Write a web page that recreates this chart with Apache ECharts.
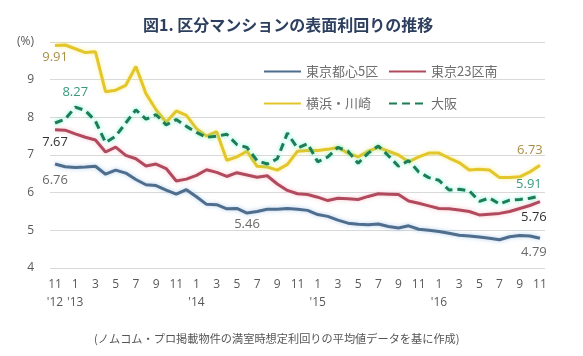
<!DOCTYPE html>
<html>
<head>
<meta charset="utf-8">
<script src="https://cdn.jsdelivr.net/npm/echarts@6/dist/echarts.min.js"></script>
<style>
html,body{margin:0;padding:0;background:#fff;}
#chart{width:583px;height:356px;}
</style>
</head>
<body>
<div id="chart"></div>
<script>
// ---- data ----
const titleText = '図1. 区分マンションの表面利回りの推移';
const footnote = '(ノムコム・プロ掲載物件の満室時想定利回りの平均値データを基に作成)';
const seriesNames = ['東京都心5区', '東京23区南', '横浜・川崎', '大阪'];
const categories = [
  '2012-11','2012-12',
  '2013-01','2013-02','2013-03','2013-04','2013-05','2013-06','2013-07','2013-08','2013-09','2013-10','2013-11','2013-12',
  '2014-01','2014-02','2014-03','2014-04','2014-05','2014-06','2014-07','2014-08','2014-09','2014-10','2014-11','2014-12',
  '2015-01','2015-02','2015-03','2015-04','2015-05','2015-06','2015-07','2015-08','2015-09','2015-10','2015-11','2015-12',
  '2016-01','2016-02','2016-03','2016-04','2016-05','2016-06','2016-07','2016-08','2016-09','2016-10','2016-11'
];
const tokyoCentral5 = [6.76,6.69,6.67,6.68,6.70,6.49,6.60,6.52,6.35,6.21,6.19,6.07,5.96,6.08,5.89,5.69,5.68,5.57,5.58,5.46,5.50,5.56,5.56,5.58,5.56,5.53,5.42,5.37,5.27,5.19,5.16,5.15,5.17,5.10,5.06,5.12,5.03,5.00,4.97,4.92,4.87,4.85,4.82,4.79,4.75,4.83,4.86,4.85,4.79];
const tokyo23South = [7.67,7.66,7.56,7.47,7.40,7.08,7.21,6.99,6.90,6.71,6.76,6.64,6.31,6.36,6.46,6.61,6.54,6.43,6.53,6.47,6.41,6.45,6.23,6.06,5.97,5.95,5.88,5.79,5.85,5.84,5.82,5.90,5.97,5.96,5.95,5.78,5.72,5.65,5.58,5.57,5.54,5.50,5.41,5.43,5.45,5.50,5.58,5.66,5.76];
const yokohamaKawasaki = [9.91,9.92,9.82,9.72,9.74,8.68,8.72,8.85,9.35,8.63,8.20,7.87,8.17,8.05,7.70,7.50,7.62,6.86,6.95,7.10,6.70,6.68,6.60,6.75,7.10,7.12,7.12,7.15,7.20,7.05,6.95,7.10,7.20,7.10,7.00,6.82,6.95,7.05,7.05,6.92,6.80,6.60,6.62,6.60,6.40,6.40,6.42,6.55,6.73];
const osaka = [7.85,7.95,8.27,8.18,7.90,7.33,7.50,7.85,8.20,7.95,8.07,7.80,7.94,7.76,7.60,7.47,7.50,7.55,7.28,7.20,6.85,6.76,6.90,7.58,7.18,7.30,6.82,6.95,7.20,7.10,6.78,7.05,7.24,6.98,6.70,6.85,6.55,6.40,6.33,6.07,6.09,6.05,5.77,5.86,5.70,5.80,5.82,5.85,5.91];
const yTicks = [4,5,6,7,8,9,10];

// ---- styling ----
const FONT = '"Noto Sans CJK JP", "Noto Sans", sans-serif';
const NUMFONT = '"Open Sans", sans-serif';
const colors = ['#4f6d8d', '#b24a5e', '#e3c52c', '#1d7d55'];
const glow = ['rgba(120,170,220,0.55)', 'rgba(240,150,170,0.55)', 'rgba(250,235,120,0.8)', 'rgba(60,240,200,0.75)'];

// which points carry a value label (style only)
const labelSpecs = [
  [{i:0, pos:'bottom', dist:9, off:[0,0], color:'#6a6a6a'},
   {i:19, pos:'bottom', dist:4, off:[0,0], color:'#6a6a6a'},
   {i:48, pos:'bottom', dist:7, off:[-6,0], color:'#6a6a6a'}],
  [{i:0, pos:'bottom', dist:5, off:[0,0], color:'#333333'},
   {i:48, pos:'bottom', dist:8, off:[-6,0], color:'#333333'}],
  [{i:0, pos:'bottom', dist:4, off:[0,0], color:'#a88f45'},
   {i:48, pos:'top', dist:7, off:[-10,0], color:'#a88f45'}],
  [{i:2, pos:'top', dist:7, off:[0,0], color:'#3a9a7e'},
   {i:48, pos:'top', dist:4, off:[-11,0], color:'#3a9a7e'}]
];

function buildData(values, specs) {
  return values.map((v, i) => {
    const s = specs.find(o => o.i === i);
    if (!s) return v;
    return {
      value: v,
      symbol: 'circle',
      symbolSize: 2,
      itemStyle: { color: 'rgba(0,0,0,0)', borderWidth: 0 },
      label: {
        show: true, position: s.pos, distance: s.dist, offset: s.off,
        color: s.color, fontSize: 13, fontFamily: NUMFONT,
        formatter: p => Number(p.value).toFixed(2)
      }
    };
  });
}

const allValues = [tokyoCentral5, tokyo23South, yokohamaKawasaki, osaka];
const series = allValues.map((vals, k) => ({
  name: seriesNames[k],
  type: 'line',
  data: buildData(vals, labelSpecs[k]),
  symbol: 'none',
  showSymbol: true,
  showAllSymbol: true,
  smooth: false,
  z: 2 + k,
  lineStyle: {
    color: colors[k],
    width: 3,
    type: k === 3 ? [8, 5] : 'solid',
    shadowColor: glow[k],
    shadowBlur: 4
  },
  itemStyle: { color: colors[k] },
  emphasis: { disabled: true },
  animation: false
}));

function legendAt(name, left, top) {
  return {
    data: [{ name: name, itemStyle: { opacity: 0 } }],
    left: left, top: top,
    itemWidth: 37, itemHeight: 12,
    itemStyle: { opacity: 0 },
    textStyle: { color: '#6e6e6e', fontSize: 13, fontFamily: FONT },
    selectedMode: false
  };
}

const chart = echarts.init(document.getElementById('chart'), null, { renderer: 'canvas' });
chart.setOption({
  backgroundColor: '#ffffff',
  animation: false,
  title: [
    { text: titleText, left: 138, top: 12,
      textStyle: { color: '#2d3f5e', fontSize: 16, fontWeight: 'bold', fontFamily: FONT } },
    { text: footnote, left: 89, top: 328,
      textStyle: { color: '#555', fontSize: 11.2, fontWeight: 'normal', fontFamily: FONT } }
  ],
  legend: [
    legendAt(seriesNames[0], 258, 60),
    legendAt(seriesNames[1], 383, 60),
    legendAt(seriesNames[2], 258, 92),
    legendAt(seriesNames[3], 383, 92)
  ],
  grid: { left: 50, right: 38, top: 42, bottom: 88, containLabel: false },
  xAxis: {
    type: 'category',
    data: categories,
    boundaryGap: true,
    axisLine: { show: false },
    axisTick: { show: false },
    splitLine: { show: false },
    axisLabel: {
      interval: 1,
      margin: 8,
      color: '#595959',
      fontSize: 12,
      lineHeight: 18,
      verticalAlign: 'top',
      fontFamily: NUMFONT,
      formatter: (val, idx) => {
        const m = parseInt(val.slice(5), 10);
        if (idx === 0 || m === 1) return m + "\n'" + val.slice(2, 4);
        return String(m);
      }
    }
  },
  yAxis: {
    type: 'value',
    min: yTicks[0], max: yTicks[yTicks.length - 1], interval: 1,
    axisLine: { show: false },
    axisTick: { show: false },
    splitLine: { lineStyle: { color: '#d9d9d9', width: 1 } },
    axisLabel: {
      margin: 16, color: '#595959', fontSize: 12,
      fontFamily: NUMFONT,
      formatter: v => (v === 10 ? '(%)' : String(v))
    }
  },
  series: series
});
</script>
</body>
</html>
